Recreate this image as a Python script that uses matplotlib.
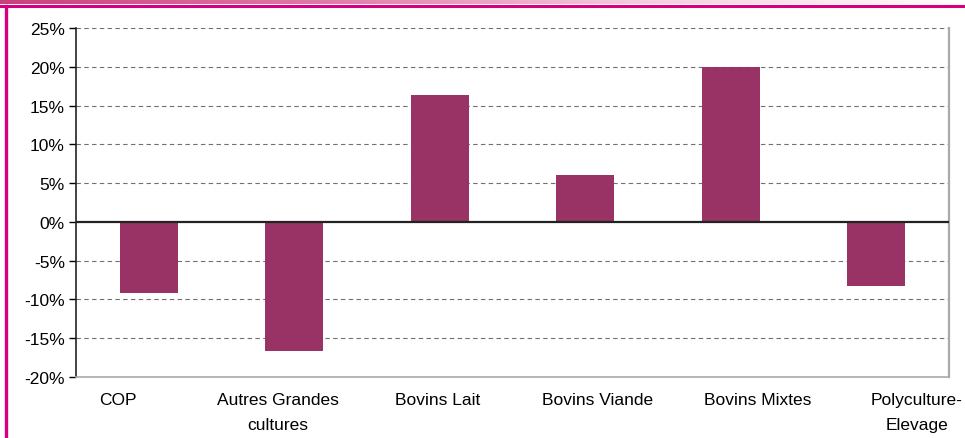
import numpy as np
import matplotlib
matplotlib.use("Agg")
import matplotlib.pyplot as plt
from matplotlib.ticker import FuncFormatter
from matplotlib.colors import LinearSegmentedColormap

categories = ["COP", "Autres Grandes\ncultures", "Bovins Lait", "Bovins Viande",
              "Bovins Mixtes", "Polyculture-\nElevage"]
values = [-9.2, -16.6, 16.4, 6.1, 20.0, -8.3]
yticks = [-20, -15, -10, -5, 0, 5, 10, 15, 20, 25]

plt.rcParams['font.family'] = ['Liberation Sans Narrow', 'Liberation Sans', 'DejaVu Sans']

W, H = 965, 439
fig = plt.figure(figsize=(W / 100, H / 100), dpi=100)
fig.patch.set_facecolor('white')

# top gradient band
gax = fig.add_axes([0, 1 - 5 / H, 1, 5 / H])
grad = np.linspace(0, 1, 256)[None, :]
cmap = LinearSegmentedColormap.from_list('g', ['#c8407e', '#e07aa8', '#f4cde0', '#ffffff'])
gax.imshow(grad, aspect='auto', cmap=cmap, extent=[0, 1, 0, 1])
gax.axis('off')

# magenta frame lines
fig.add_artist(plt.Line2D([0, 1], [1 - 6.5 / H, 1 - 6.5 / H], color='#d6007e', lw=2.2))
fig.add_artist(plt.Line2D([6 / W, 6 / W], [0, 1 - 6.5 / H], color='#d6007e', lw=2.4))

ax = fig.add_axes([76 / W, 1 - 378 / H, (949 - 76) / W, (378 - 29) / H])
x = np.arange(len(categories))
ax.bar(x, values, width=0.4, color='#993366', zorder=3)
ax.set_xlim(-0.5, len(categories) - 0.5)
ax.set_ylim(-20, 25)
ax.set_yticks(yticks)
ax.yaxis.set_major_formatter(FuncFormatter(lambda v, p: f"{int(v)}%"))
ax.tick_params(axis='y', length=5, width=1, pad=3, labelsize=12.5, colors='black')
ax.set_xticks([])
for t in yticks:
    if t != 0:
        ax.axhline(t, color='#707070', lw=0.8, ls=(0, (4, 3)), zorder=1)
ax.axhline(0, color='#222222', lw=1.6, zorder=4)
ax.spines['top'].set_visible(False)
ax.spines['right'].set_color('#aaaaaa')
ax.spines['right'].set_linewidth(1.6)
ax.spines['bottom'].set_color('#aaaaaa')
ax.spines['bottom'].set_linewidth(1.2)
ax.spines['left'].set_color('#222222')
ax.spines['left'].set_linewidth(1.2)

# category labels axis (labels spaced independently of bars)
lax = ax.twiny()
lax.set_xlim((76 - 118) / 159.8, (949 - 118) / 159.8)
lax.xaxis.set_ticks_position('bottom')
lax.xaxis.set_label_position('bottom')
lax.set_xticks(np.arange(len(categories)))
lax.set_xticklabels(categories, fontsize=12.5, linespacing=1.85)
lax.tick_params(axis='x', length=0, pad=11)
for s in lax.spines.values():
    s.set_visible(False)
for lbl in lax.get_xticklabels():
    lbl.set_clip_on(False)

fig.savefig('out.png', dpi=100)
